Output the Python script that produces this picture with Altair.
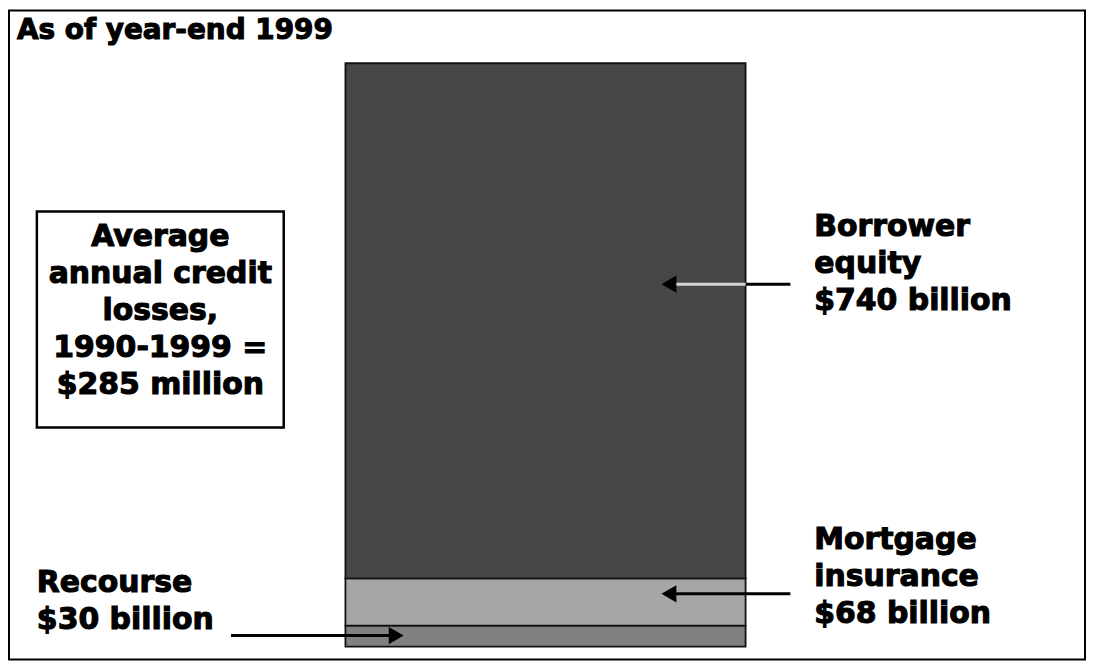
import altair as alt
import pandas as pd

# ---- data ----
segments = ["Recourse", "Mortgage insurance", "Borrower equity"]
values_bn = [30, 68, 740]
seg_colors = ["#808080", "#a6a6a6", "#474747"]
year = ["1999"]

title_text = "As of year-end 1999"
box_lines = ["Average", "annual credit", "losses,", "1990-1999 =", "$285 million"]
equity_lines = ["Borrower", "equity", "$740 billion"]
mi_lines = ["Mortgage", "insurance", "$68 billion"]
recourse_lines = ["Recourse", "$30 billion"]

# ---- layout ----
W, H = 1083, 654
FONT = "DejaVu Sans"
FS = 30
LH = 37

total = sum(values_bn)
bars_df = pd.DataFrame({
    "year": year * len(segments),
    "segment": segments,
    "value": values_bn,
    "order": list(range(len(segments))),
})

bars = alt.Chart(bars_df).mark_bar(stroke="#111111", strokeWidth=1.8).encode(
    x=alt.X("year:N", scale=alt.Scale(range=[339, 741], paddingInner=0, paddingOuter=0), axis=None),
    y=alt.Y("value:Q", stack="zero", scale=alt.Scale(domain=[0, total], range=[640, 54]), axis=None),
    color=alt.Color("segment:N", scale=alt.Scale(domain=segments, range=seg_colors), legend=None),
    order=alt.Order("order:Q"),
)


def text_lines(lines, x, y0, align="left", size=FS, lh=LH):
    out = []
    for i, line in enumerate(lines):
        out.append(
            alt.Chart(pd.DataFrame({"t": [line]})).mark_text(
                align=align, baseline="middle", font=FONT, fontWeight="bold",
                fontSize=size, color="black", stroke="black", strokeWidth=1.1,
            ).encode(x=alt.value(x), y=alt.value(y0 + i * lh), text="t:N")
        )
    return out


def rule(x1, x2, y, color="black", w=3):
    return alt.Chart(pd.DataFrame({"a": [0]})).mark_rule(color=color, strokeWidth=w).encode(
        x=alt.value(x1), x2=alt.value(x2), y=alt.value(y)
    )


def head(x, y, shape):
    return alt.Chart(pd.DataFrame({"a": [0]})).mark_point(
        shape=shape, filled=True, color="black", opacity=1, size=300, strokeWidth=0
    ).encode(x=alt.value(x), y=alt.value(y))


frame = alt.Chart(pd.DataFrame({"a": [0]})).mark_rect(
    fill="white", fillOpacity=0, stroke="black", strokeWidth=2
).encode(x=alt.value(1), x2=alt.value(W - 1), y=alt.value(1), y2=alt.value(H - 1))

box = alt.Chart(pd.DataFrame({"a": [0]})).mark_rect(
    fill="white", stroke="black", strokeWidth=2.5
).encode(x=alt.value(29), x2=alt.value(277), y=alt.value(203), y2=alt.value(420))

layers = [frame, bars, box]
layers += text_lines([title_text], 9, 22, size=28)
layers += text_lines(box_lines, 153, 229, align="center")
layers += text_lines(equity_lines, 810, 219)
layers += text_lines(mi_lines, 810, 533)
layers += text_lines(recourse_lines, 29, 576)

# arrows
layers += [
    rule(741, 786, 276, "black"),
    rule(664, 741, 276, "#d4d4d4"),
    head(664, 276, "triangle-left"),
    rule(664, 786, 587, "black"),
    head(664, 587, "triangle-left"),
    rule(224, 390, 629, "black"),
    head(390, 629, "triangle-right"),
]

chart = alt.layer(*layers).properties(
    width=W, height=H, padding=0, background="white"
).configure_view(stroke=None)

chart.save("out.html", embed_options={"renderer": "svg", "actions": False})
